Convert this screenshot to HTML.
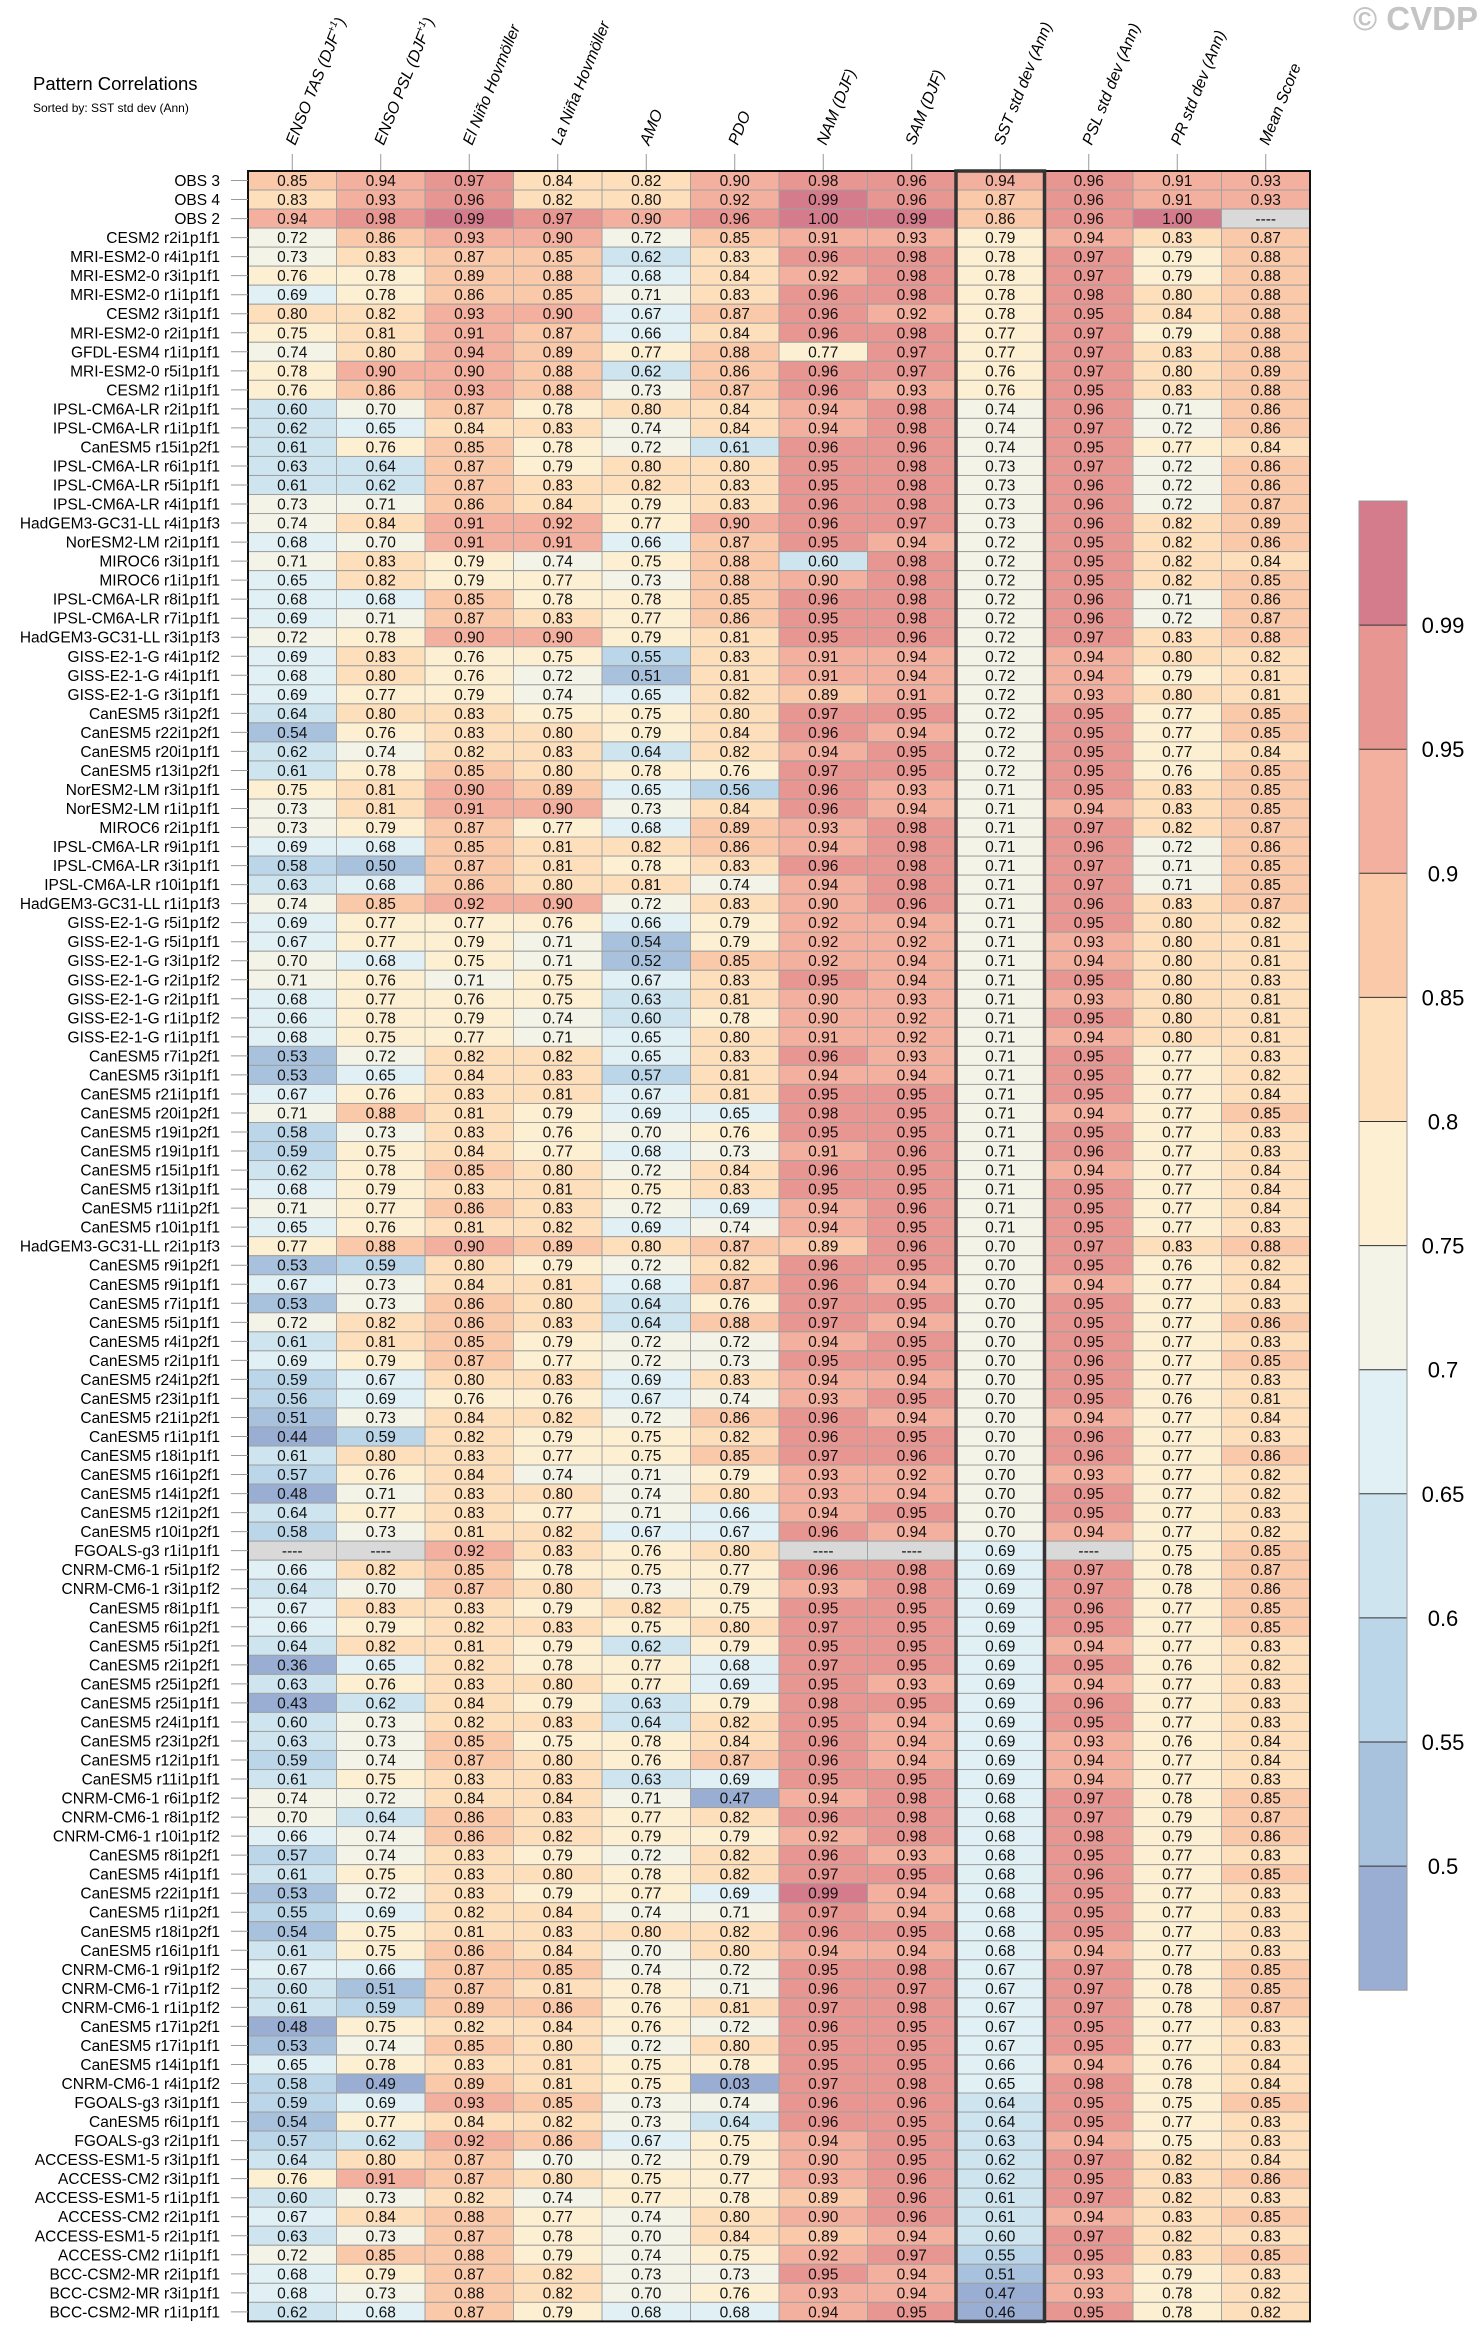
<!DOCTYPE html>
<html><head><meta charset="utf-8"><title>Pattern Correlations</title>
<style>
html,body{margin:0;padding:0;background:#fff;}
svg{display:block;font-family:"Liberation Sans",Arial,sans-serif;}
</style></head>
<body>
<svg id="chart" width="1484" height="2342" viewBox="0 0 1484 2342" xmlns="http://www.w3.org/2000/svg">
<rect x="0" y="0" width="1484" height="2342" fill="#fff"/>
<text x="33" y="90" font-size="18.5" fill="#000">Pattern Correlations</text>
<text x="33" y="112" font-size="12" fill="#000">Sorted by: SST std dev (Ann)</text>
<text x="1478" y="30" font-size="33" font-weight="bold" fill="#c4c4c4" text-anchor="end">© CVDP</text>
<g id="headers"></g>
<g id="cells"></g>
<g id="rowlabels"></g>
<g id="colorbar"></g>
</svg>
<script>
const columns = ["ENSO TAS (DJF","ENSO PSL (DJF","El Niño Hovmöller","La Niña Hovmöller","AMO","PDO","NAM (DJF)","SAM (DJF)","SST std dev (Ann)","PSL std dev (Ann)","PR std dev (Ann)","Mean Score"];
const columnSup = ["+1","+1","","","","","","","","","",""];
const rowNames = ["OBS 3","OBS 4","OBS 2","CESM2 r2i1p1f1","MRI-ESM2-0 r4i1p1f1","MRI-ESM2-0 r3i1p1f1","MRI-ESM2-0 r1i1p1f1","CESM2 r3i1p1f1","MRI-ESM2-0 r2i1p1f1","GFDL-ESM4 r1i1p1f1",
"MRI-ESM2-0 r5i1p1f1","CESM2 r1i1p1f1","IPSL-CM6A-LR r2i1p1f1","IPSL-CM6A-LR r1i1p1f1","CanESM5 r15i1p2f1","IPSL-CM6A-LR r6i1p1f1","IPSL-CM6A-LR r5i1p1f1","IPSL-CM6A-LR r4i1p1f1","HadGEM3-GC31-LL r4i1p1f3","NorESM2-LM r2i1p1f1",
"MIROC6 r3i1p1f1","MIROC6 r1i1p1f1","IPSL-CM6A-LR r8i1p1f1","IPSL-CM6A-LR r7i1p1f1","HadGEM3-GC31-LL r3i1p1f3","GISS-E2-1-G r4i1p1f2","GISS-E2-1-G r4i1p1f1","GISS-E2-1-G r3i1p1f1","CanESM5 r3i1p2f1","CanESM5 r22i1p2f1",
"CanESM5 r20i1p1f1","CanESM5 r13i1p2f1","NorESM2-LM r3i1p1f1","NorESM2-LM r1i1p1f1","MIROC6 r2i1p1f1","IPSL-CM6A-LR r9i1p1f1","IPSL-CM6A-LR r3i1p1f1","IPSL-CM6A-LR r10i1p1f1","HadGEM3-GC31-LL r1i1p1f3","GISS-E2-1-G r5i1p1f2",
"GISS-E2-1-G r5i1p1f1","GISS-E2-1-G r3i1p1f2","GISS-E2-1-G r2i1p1f2","GISS-E2-1-G r2i1p1f1","GISS-E2-1-G r1i1p1f2","GISS-E2-1-G r1i1p1f1","CanESM5 r7i1p2f1","CanESM5 r3i1p1f1","CanESM5 r21i1p1f1","CanESM5 r20i1p2f1",
"CanESM5 r19i1p2f1","CanESM5 r19i1p1f1","CanESM5 r15i1p1f1","CanESM5 r13i1p1f1","CanESM5 r11i1p2f1","CanESM5 r10i1p1f1","HadGEM3-GC31-LL r2i1p1f3","CanESM5 r9i1p2f1","CanESM5 r9i1p1f1","CanESM5 r7i1p1f1",
"CanESM5 r5i1p1f1","CanESM5 r4i1p2f1","CanESM5 r2i1p1f1","CanESM5 r24i1p2f1","CanESM5 r23i1p1f1","CanESM5 r21i1p2f1","CanESM5 r1i1p1f1","CanESM5 r18i1p1f1","CanESM5 r16i1p2f1","CanESM5 r14i1p2f1",
"CanESM5 r12i1p2f1","CanESM5 r10i1p2f1","FGOALS-g3 r1i1p1f1","CNRM-CM6-1 r5i1p1f2","CNRM-CM6-1 r3i1p1f2","CanESM5 r8i1p1f1","CanESM5 r6i1p2f1","CanESM5 r5i1p2f1","CanESM5 r2i1p2f1","CanESM5 r25i1p2f1",
"CanESM5 r25i1p1f1","CanESM5 r24i1p1f1","CanESM5 r23i1p2f1","CanESM5 r12i1p1f1","CanESM5 r11i1p1f1","CNRM-CM6-1 r6i1p1f2","CNRM-CM6-1 r8i1p1f2","CNRM-CM6-1 r10i1p1f2","CanESM5 r8i1p2f1","CanESM5 r4i1p1f1",
"CanESM5 r22i1p1f1","CanESM5 r1i1p2f1","CanESM5 r18i1p2f1","CanESM5 r16i1p1f1","CNRM-CM6-1 r9i1p1f2","CNRM-CM6-1 r7i1p1f2","CNRM-CM6-1 r1i1p1f2","CanESM5 r17i1p2f1","CanESM5 r17i1p1f1","CanESM5 r14i1p1f1",
"CNRM-CM6-1 r4i1p1f2","FGOALS-g3 r3i1p1f1","CanESM5 r6i1p1f1","FGOALS-g3 r2i1p1f1","ACCESS-ESM1-5 r3i1p1f1","ACCESS-CM2 r3i1p1f1","ACCESS-ESM1-5 r1i1p1f1","ACCESS-CM2 r2i1p1f1","ACCESS-ESM1-5 r2i1p1f1","ACCESS-CM2 r1i1p1f1",
"BCC-CSM2-MR r2i1p1f1","BCC-CSM2-MR r3i1p1f1","BCC-CSM2-MR r1i1p1f1"];
const N = null;
const values = [
[.85,.94,.97,.84,.82,.90,.98,.96,.94,.96,.91,.93],
[.83,.93,.96,.82,.80,.92,.99,.96,.87,.96,.91,.93],
[.94,.98,.99,.97,.90,.96,1.00,.99,.86,.96,1.00,N],
[.72,.86,.93,.90,.72,.85,.91,.93,.79,.94,.83,.87],
[.73,.83,.87,.85,.62,.83,.96,.98,.78,.97,.79,.88],
[.76,.78,.89,.88,.68,.84,.92,.98,.78,.97,.79,.88],
[.69,.78,.86,.85,.71,.83,.96,.98,.78,.98,.80,.88],
[.80,.82,.93,.90,.67,.87,.96,.92,.78,.95,.84,.88],
[.75,.81,.91,.87,.66,.84,.96,.98,.77,.97,.79,.88],
[.74,.80,.94,.89,.77,.88,.77,.97,.77,.97,.83,.88],
[.78,.90,.90,.88,.62,.86,.96,.97,.76,.97,.80,.89],
[.76,.86,.93,.88,.73,.87,.96,.93,.76,.95,.83,.88],
[.60,.70,.87,.78,.80,.84,.94,.98,.74,.96,.71,.86],
[.62,.65,.84,.83,.74,.84,.94,.98,.74,.97,.72,.86],
[.61,.76,.85,.78,.72,.61,.96,.96,.74,.95,.77,.84],
[.63,.64,.87,.79,.80,.80,.95,.98,.73,.97,.72,.86],
[.61,.62,.87,.83,.82,.83,.95,.98,.73,.96,.72,.86],
[.73,.71,.86,.84,.79,.83,.96,.98,.73,.96,.72,.87],
[.74,.84,.91,.92,.77,.90,.96,.97,.73,.96,.82,.89],
[.68,.70,.91,.91,.66,.87,.95,.94,.72,.95,.82,.86],
[.71,.83,.79,.74,.75,.88,.60,.98,.72,.95,.82,.84],
[.65,.82,.79,.77,.73,.88,.90,.98,.72,.95,.82,.85],
[.68,.68,.85,.78,.78,.85,.96,.98,.72,.96,.71,.86],
[.69,.71,.87,.83,.77,.86,.95,.98,.72,.96,.72,.87],
[.72,.78,.90,.90,.79,.81,.95,.96,.72,.97,.83,.88],
[.69,.83,.76,.75,.55,.83,.91,.94,.72,.94,.80,.82],
[.68,.80,.76,.72,.51,.81,.91,.94,.72,.94,.79,.81],
[.69,.77,.79,.74,.65,.82,.89,.91,.72,.93,.80,.81],
[.64,.80,.83,.75,.75,.80,.97,.95,.72,.95,.77,.85],
[.54,.76,.83,.80,.79,.84,.96,.94,.72,.95,.77,.85],
[.62,.74,.82,.83,.64,.82,.94,.95,.72,.95,.77,.84],
[.61,.78,.85,.80,.78,.76,.97,.95,.72,.95,.76,.85],
[.75,.81,.90,.89,.65,.56,.96,.93,.71,.95,.83,.85],
[.73,.81,.91,.90,.73,.84,.96,.94,.71,.94,.83,.85],
[.73,.79,.87,.77,.68,.89,.93,.98,.71,.97,.82,.87],
[.69,.68,.85,.81,.82,.86,.94,.98,.71,.96,.72,.86],
[.58,.50,.87,.81,.78,.83,.96,.98,.71,.97,.71,.85],
[.63,.68,.86,.80,.81,.74,.94,.98,.71,.97,.71,.85],
[.74,.85,.92,.90,.72,.83,.90,.96,.71,.96,.83,.87],
[.69,.77,.77,.76,.66,.79,.92,.94,.71,.95,.80,.82],
[.67,.77,.79,.71,.54,.79,.92,.92,.71,.93,.80,.81],
[.70,.68,.75,.71,.52,.85,.92,.94,.71,.94,.80,.81],
[.71,.76,.71,.75,.67,.83,.95,.94,.71,.95,.80,.83],
[.68,.77,.76,.75,.63,.81,.90,.93,.71,.93,.80,.81],
[.66,.78,.79,.74,.60,.78,.90,.92,.71,.95,.80,.81],
[.68,.75,.77,.71,.65,.80,.91,.92,.71,.94,.80,.81],
[.53,.72,.82,.82,.65,.83,.96,.93,.71,.95,.77,.83],
[.53,.65,.84,.83,.57,.81,.94,.94,.71,.95,.77,.82],
[.67,.76,.83,.81,.67,.81,.95,.95,.71,.95,.77,.84],
[.71,.88,.81,.79,.69,.65,.98,.95,.71,.94,.77,.85],
[.58,.73,.83,.76,.70,.76,.95,.95,.71,.95,.77,.83],
[.59,.75,.84,.77,.68,.73,.91,.96,.71,.96,.77,.83],
[.62,.78,.85,.80,.72,.84,.96,.95,.71,.94,.77,.84],
[.68,.79,.83,.81,.75,.83,.95,.95,.71,.95,.77,.84],
[.71,.77,.86,.83,.72,.69,.94,.96,.71,.95,.77,.84],
[.65,.76,.81,.82,.69,.74,.94,.95,.71,.95,.77,.83],
[.77,.88,.90,.89,.80,.87,.89,.96,.70,.97,.83,.88],
[.53,.59,.80,.79,.72,.82,.96,.95,.70,.95,.76,.82],
[.67,.73,.84,.81,.68,.87,.96,.94,.70,.94,.77,.84],
[.53,.73,.86,.80,.64,.76,.97,.95,.70,.95,.77,.83],
[.72,.82,.86,.83,.64,.88,.97,.94,.70,.95,.77,.86],
[.61,.81,.85,.79,.72,.72,.94,.95,.70,.95,.77,.83],
[.69,.79,.87,.77,.72,.73,.95,.95,.70,.96,.77,.85],
[.59,.67,.80,.83,.69,.83,.94,.94,.70,.95,.77,.83],
[.56,.69,.76,.76,.67,.74,.93,.95,.70,.95,.76,.81],
[.51,.73,.84,.82,.72,.86,.96,.94,.70,.94,.77,.84],
[.44,.59,.82,.79,.75,.82,.96,.95,.70,.96,.77,.83],
[.61,.80,.83,.77,.75,.85,.97,.96,.70,.96,.77,.86],
[.57,.76,.84,.74,.71,.79,.93,.92,.70,.93,.77,.82],
[.48,.71,.83,.80,.74,.80,.93,.94,.70,.95,.77,.82],
[.64,.77,.83,.77,.71,.66,.94,.95,.70,.95,.77,.83],
[.58,.73,.81,.82,.67,.67,.96,.94,.70,.94,.77,.82],
[N,N,.92,.83,.76,.80,N,N,.69,N,.75,.85],
[.66,.82,.85,.78,.75,.77,.96,.98,.69,.97,.78,.87],
[.64,.70,.87,.80,.73,.79,.93,.98,.69,.97,.78,.86],
[.67,.83,.83,.79,.82,.75,.95,.95,.69,.96,.77,.85],
[.66,.79,.82,.83,.75,.80,.97,.95,.69,.95,.77,.85],
[.64,.82,.81,.79,.62,.79,.95,.95,.69,.94,.77,.83],
[.36,.65,.82,.78,.77,.68,.97,.95,.69,.95,.76,.82],
[.63,.76,.83,.80,.77,.69,.95,.93,.69,.94,.77,.83],
[.43,.62,.84,.79,.63,.79,.98,.95,.69,.96,.77,.83],
[.60,.73,.82,.83,.64,.82,.95,.94,.69,.95,.77,.83],
[.63,.73,.85,.75,.78,.84,.96,.94,.69,.93,.76,.84],
[.59,.74,.87,.80,.76,.87,.96,.94,.69,.94,.77,.84],
[.61,.75,.83,.83,.63,.69,.95,.95,.69,.94,.77,.83],
[.74,.72,.84,.84,.71,.47,.94,.98,.68,.97,.78,.85],
[.70,.64,.86,.83,.77,.82,.96,.98,.68,.97,.79,.87],
[.66,.74,.86,.82,.79,.79,.92,.98,.68,.98,.79,.86],
[.57,.74,.83,.79,.72,.82,.96,.93,.68,.95,.77,.83],
[.61,.75,.83,.80,.78,.82,.97,.95,.68,.96,.77,.85],
[.53,.72,.83,.79,.77,.69,.99,.94,.68,.95,.77,.83],
[.55,.69,.82,.84,.74,.71,.97,.94,.68,.95,.77,.83],
[.54,.75,.81,.83,.80,.82,.96,.95,.68,.95,.77,.83],
[.61,.75,.86,.84,.70,.80,.94,.94,.68,.94,.77,.83],
[.67,.66,.87,.85,.74,.72,.95,.98,.67,.97,.78,.85],
[.60,.51,.87,.81,.78,.71,.96,.97,.67,.97,.78,.85],
[.61,.59,.89,.86,.76,.81,.97,.98,.67,.97,.78,.87],
[.48,.75,.82,.84,.76,.72,.96,.95,.67,.95,.77,.83],
[.53,.74,.85,.80,.72,.80,.95,.95,.67,.95,.77,.83],
[.65,.78,.83,.81,.75,.78,.95,.95,.66,.94,.76,.84],
[.58,.49,.89,.81,.75,.03,.97,.98,.65,.98,.78,.84],
[.59,.69,.93,.85,.73,.74,.96,.96,.64,.95,.75,.85],
[.54,.77,.84,.82,.73,.64,.96,.95,.64,.95,.77,.83],
[.57,.62,.92,.86,.67,.75,.94,.95,.63,.94,.75,.83],
[.64,.80,.87,.70,.72,.79,.90,.95,.62,.97,.82,.84],
[.76,.91,.87,.80,.75,.77,.93,.96,.62,.95,.83,.86],
[.60,.73,.82,.74,.77,.78,.89,.96,.61,.97,.82,.83],
[.67,.84,.88,.77,.74,.80,.90,.96,.61,.94,.83,.85],
[.63,.73,.87,.78,.70,.84,.89,.94,.60,.97,.82,.83],
[.72,.85,.88,.79,.74,.75,.92,.97,.55,.95,.83,.85],
[.68,.79,.87,.82,.73,.73,.95,.94,.51,.93,.79,.83],
[.68,.73,.88,.82,.70,.76,.93,.94,.47,.93,.78,.82],
[.62,.68,.87,.79,.68,.68,.94,.95,.46,.95,.78,.82]
];
const levels = [0.5,0.55,0.6,0.65,0.7,0.75,0.8,0.85,0.9,0.95,0.99];
const levelLabels = ["0.5","0.55","0.6","0.65","0.7","0.75","0.8","0.85","0.9","0.95","0.99"];
const palette = ["#9aaed3","#a8c2dd","#bbd6e8","#cee4ef","#e1f0f5","#f3f3e8","#fdf0d2","#fde0bb","#f9c9a9","#f4b09f","#e89691","#d47b8c"];

const NS = "http://www.w3.org/2000/svg";
const tblLeft = 248, tblTop = 171, colW = 88.5, rowH = 19.03;
const xCol = i => tblLeft + i * colW;
const yRow = i => tblTop + i * rowH;
function colorFor(v){ if(v===null) return "#d9d9d9"; let k=0; while(k<levels.length && v>=levels[k]-1e-9) k++; return palette[k]; }
function mk(tag, attrs, parent){ const e=document.createElementNS(NS,tag); for(const k in attrs) e.setAttribute(k,attrs[k]); parent.appendChild(e); return e; }

const gH = document.getElementById("headers");
columns.forEach((c,i)=>{
  const cx = xCol(i)+colW/2;
  const tk = mk("line",{x1:cx,x2:cx,y1:154,y2:tblTop,stroke:"#999","stroke-width":1},gH);
  
  
  const t = mk("text",{x:cx+3,y:146,"font-size":16,"font-style":"italic",fill:"#000",transform:`rotate(-68 ${cx+3} 146)`},gH);
  
  
  t.appendChild(document.createTextNode(c));
  if(columnSup[i]){
    const s = mk("tspan",{"font-size":10,dy:-7},t); s.textContent=columnSup[i];
    const e = mk("tspan",{dy:7},t); e.textContent=")";
  }
});

const gC = document.getElementById("cells");
values.forEach((row,r)=>{
  row.forEach((v,c)=>{
    const rc = mk("rect",{x:xCol(c),y:yRow(r),width:colW,height:rowH,fill:colorFor(v),stroke:"#a0a0a0","stroke-width":1},gC);
    
    
    const t = mk("text",{x:xCol(c)+colW/2,y:yRow(r)+rowH/2+5.5,"font-size":15.5,"text-anchor":"middle",fill:"#111"},gC);
    
    
    t.textContent = v===null ? "----" : v.toFixed(2);
  });
});
const nR = values.length;
const ob = mk("rect",{x:tblLeft,y:tblTop,width:colW*12,height:rowH*nR,fill:"none",stroke:"#111","stroke-width":2},gC);


const sb = mk("rect",{x:xCol(8),y:tblTop,width:colW,height:rowH*nR,fill:"none",stroke:"#333","stroke-width":3.5},gC);



const gR = document.getElementById("rowlabels");
rowNames.forEach((n,r)=>{
  const cy = yRow(r)+rowH/2;
  const tk = mk("line",{x1:231,x2:tblLeft,y1:cy,y2:cy,stroke:"#999","stroke-width":1},gR);
  
  
  const t = mk("text",{x:220,y:cy+5.5,"font-size":15.5,"text-anchor":"end",fill:"#000"},gR);
  
  
  t.textContent = n;
});

const gB = document.getElementById("colorbar");
const cbX = 1359, cbTop = 501, cbW = 48, cbH = 124.1;
for(let k=0;k<palette.length;k++){
  const idx = palette.length-1-k;
  const b = mk("rect",{x:cbX,y:cbTop+k*cbH,width:cbW,height:cbH,fill:palette[idx],stroke:"none"},gB);
  
  
}
levels.forEach((lv,j)=>{
  const y = cbTop + (levels.length - j)*cbH;
  const l = mk("line",{x1:cbX,x2:cbX+cbW,y1:y,y2:y,stroke:"#333","stroke-width":1},gB);
  
  
  const t = mk("text",{x:1443,y:y+8,"font-size":22,"text-anchor":"middle",fill:"#000"},gB);
  
  
  t.textContent = levelLabels[j];
});
const cbo = mk("rect",{x:cbX,y:cbTop,width:cbW,height:cbH*12,fill:"none",stroke:"#999","stroke-width":1},gB);


</script>
</body></html>
